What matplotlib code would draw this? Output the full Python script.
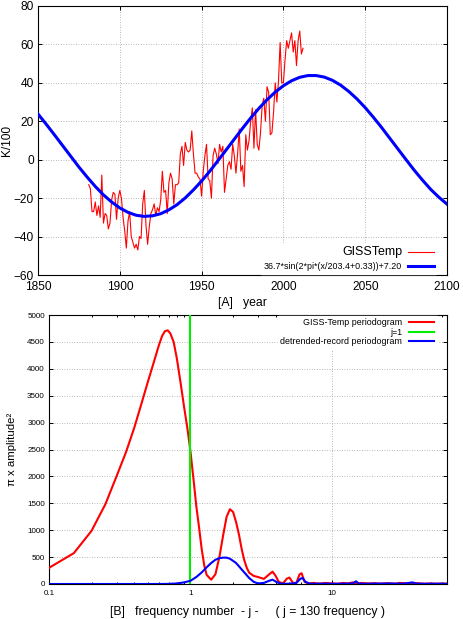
import numpy as np
import matplotlib
matplotlib.use('Agg')
import matplotlib.pyplot as plt
from matplotlib.ticker import FuncFormatter, FixedLocator

plt.rcParams['font.family'] = ['Liberation Sans', 'DejaVu Sans']

### data, panel A: GISS temperature (K/100) and fitted sine
giss_years = list(range(1881, 2013))
giss_temp = [
    -13, -15, -27, -27, -22, -29, -24, -30, -8, -33,        # 1881-1890
    -28, -29, -36, -33, -21, -17, -18, -31, -20, -16,       # 1891-1900
    -20, -30, -37, -46, -32, -27, -40, -43, -46, -44,       # 1901-1910
    -47, -40, -41, -23, -16, -34, -44, -35, -28, -26,       # 1911-1920
    -23, -29, -25, -27, -21, -6, -17, -16, -28, -12,        # 1921-1930
    -7, -10, -23, -13, -13, -12, 3, 7, -3, 9,               # 1931-1940
    5, 4, 5, 15, 3, -7, -7, -9, -10, -19,                   # 1941-1950
    -6, 2, 8, -10, -11, -20, 2, 6, 3, -2,                   # 1951-1960
    8, 4, 7, -17, -10, -3, -1, -5, 8, 2,                    # 1961-1970
    -7, 3, 16, -6, -3, -14, 13, 5, 10, 20,                  # 1971-1980
    27, 6, 26, 8, 5, 14, 28, 32, 20, 38,                    # 1981-1990
    35, 13, 14, 25, 40, 30, 41, 61, 40, 40,                 # 1991-2000
    52, 62, 58, 62, 66, 56, 62, 49, 62, 67,                 # 2001-2010
    55, 58,                                                 # 2011-2012
]

fit_years = list(range(1850, 2101, 5))
fit_vals = [
    23.8, 18.5, 13.0, 7.4, 1.8, -3.8, -9.0, -13.9, -18.3, -22.0,
    -25.1, -27.4, -28.9, -29.5, -29.2, -28.1, -26.1, -23.4, -19.9, -15.7,
    -11.1, -6.0, -0.5, 5.1, 10.7, 16.3, 21.7, 26.7, 31.2, 35.2,
    38.5, 41.1, 42.9, 43.8, 43.8, 43.0, 41.3, 38.8, 35.5, 31.6,
    27.1, 22.1, 16.8, 11.2, 5.6, 0.0, -5.5, -10.6, -15.4, -19.5,
    -23.1,
]
fit_label = '36.7*sin(2*pi*(x/203.4+0.33))+7.20'

### data, panel B: periodograms
j_red = [0.10, 0.15, 0.20, 0.25, 0.30, 0.35, 0.40, 0.45, 0.50, 0.55,
         0.60, 0.63, 0.66, 0.69, 0.72, 0.76, 0.80, 0.85, 0.90, 0.95,
         1.00, 1.05, 1.10, 1.15, 1.20, 1.25, 1.30, 1.40, 1.50, 1.60,
         1.70, 1.80, 1.90, 2.00, 2.10, 2.20, 2.30, 2.40, 2.50, 2.60,
         2.80, 3.00, 3.30, 3.60, 3.80, 4.00, 4.20, 4.50, 4.80, 5.00,
         5.30, 5.60, 5.90, 6.10, 6.40, 6.80, 7.5, 8, 9, 10,
         11, 12, 13, 14, 15, 16, 18, 20, 22, 25,
         28, 30, 35, 40, 45, 50, 55, 60, 65]
p_red = [300, 575, 990, 1480, 2000, 2450, 2900, 3350, 3760, 4120,
         4450, 4610, 4700, 4715, 4660, 4500, 4200, 3750, 3300, 2900,
         2460, 1950, 1440, 1050, 650, 350, 170, 80, 180, 500,
         900, 1250, 1390, 1340, 1150, 920, 650, 440, 300, 210,
         150, 130, 95, 180, 230, 150, 40, 10, 100, 120,
         20, 20, 180, 200, 40, 10, 20, 5, 20, 10,
         5, 20, 10, 30, 5, 20, 10, 15, 5, 15,
         5, 20, 10, 15, 5, 10, 5, 10, 5]

j_blue = [0.10, 0.20, 0.30, 0.40, 0.50, 0.60, 0.70, 0.80, 0.90, 1.00,
          1.10, 1.20, 1.30, 1.40, 1.50, 1.60, 1.70, 1.80, 1.90, 2.00,
          2.10, 2.20, 2.30, 2.40, 2.60, 2.80, 3.00, 3.30, 3.60, 3.80,
          4.10, 4.40, 5.00, 5.60, 6.00, 6.20, 6.50, 7.00, 8, 10,
          12, 14, 14.8, 15.5, 18, 25, 32, 37, 40, 50, 65]
p_blue = [0, 0, 0, 0, 0, 0, 2, 10, 30, 60,
          130, 215, 310, 390, 450, 480, 490, 490, 470, 430,
          390, 330, 270, 215, 110, 40, 10, 20, 60, 80,
          30, 5, 5, 20, 100, 110, 40, 5, 5, 5,
          5, 10, 50, 5, 5, 10, 5, 30, 5, 5, 5]

j_mark = 1


W, H = 464, 619
fig = plt.figure(figsize=(W / 100, H / 100), dpi=100)

grid_kw = dict(color='#a0a0a0', linestyle=(0, (1, 2)), linewidth=0.6)

def axes_px(left, top, right, bottom):
    return fig.add_axes([left / W, 1 - bottom / H, (right - left) / W, (bottom - top) / H])

def style(ax, size):
    for s in ax.spines.values():
        s.set_linewidth(0.8)
    ax.tick_params(which='both', direction='in', top=True, right=True,
                   labelsize=size, width=0.7, pad=3)
    ax.tick_params(which='major', length=3.2)
    ax.tick_params(which='minor', length=1.6)

def white_legend(leg):
    leg.get_frame().set_edgecolor('white')
    leg.get_frame().set_facecolor('white')
    leg.get_frame().set_alpha(1)
    # right-align the labels like gnuplot's key
    for col in leg._legend_handle_box.get_children():
        col.align = 'right'


### panel A
ax1 = axes_px(38, 6, 447, 275)
ax1.plot(giss_years, giss_temp, color='#ff0000', lw=0.8, label='GISSTemp', zorder=3)
ax1.plot(fit_years, fit_vals, color='#0000ff', lw=2.2, label=fit_label, zorder=4)
ax1.set_xlim(1850, 2100)
ax1.set_ylim(-60, 80)
ax1.set_xticks(range(1850, 2101, 50))
ax1.set_yticks(range(-60, 81, 20))
ax1.grid(True, **grid_kw)
ax1.set_axisbelow(True)
style(ax1, 8.6)
ax1.tick_params(axis='x', pad=4)
ax1.set_ylabel('K/100', fontsize=8.6)
ax1.yaxis.set_label_coords(-0.062, 0.5)
ax1.set_xlabel('[A]   year', fontsize=8.8, labelpad=3)

leg1 = ax1.legend(loc='lower right', bbox_to_anchor=(0.985, -0.012), fontsize=6.4,
                  markerfirst=False, handlelength=2.9, handletextpad=0.65,
                  labelspacing=0.45, frameon=True, fancybox=False,
                  borderpad=0.3)
leg1.get_texts()[0].set_fontsize(9)
white_legend(leg1)


### panel B
ax2 = axes_px(49, 315, 447, 584)
ax2.plot(j_red, p_red, color='#ff0000', lw=1.5, label='GISS-Temp periodogram', zorder=3)
ax2.axvline(j_mark, color='#00ee00', lw=1.5, label='j=1', zorder=4)
ax2.plot(j_blue, p_blue, color='#0000ff', lw=1.5, label='detrended-record periodogram', zorder=5)
ax2.set_xscale('log')
ax2.set_xlim(0.1, 65)
ax2.set_ylim(0, 5000)
ax2.set_yticks(range(0, 5001, 500))
ax2.xaxis.set_major_locator(FixedLocator([0.1, 1, 10]))
ax2.xaxis.set_major_formatter(FuncFormatter(lambda v, _: f'{v:g}'))
ax2.grid(True, which='major', **grid_kw)
ax2.set_axisbelow(True)
style(ax2, 5.8)
ax2.tick_params(axis='x', which='major', pad=4)
ax2.set_ylabel('\u03c0 x amplitude\u00b2', fontsize=8.2, labelpad=7)
ax2.set_xlabel('[B]   frequency number  - j -     ( j = 130 frequency )',
               fontsize=8.8, labelpad=7)

leg2 = ax2.legend(loc='upper right', bbox_to_anchor=(0.985, 1.012), fontsize=6.4,
                  markerfirst=False, handlelength=2.9, handletextpad=0.7,
                  labelspacing=0.05, frameon=True, fancybox=False,
                  borderpad=0.25)
white_legend(leg2)

fig.savefig('out.png', dpi=100)
